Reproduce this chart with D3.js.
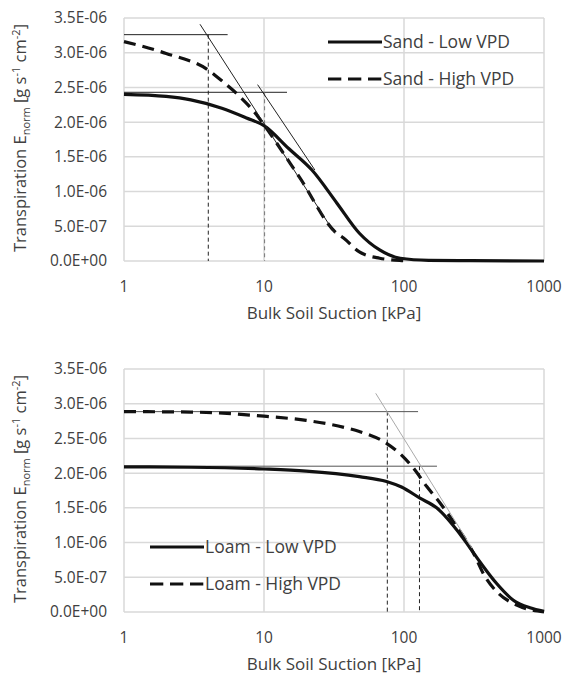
<!DOCTYPE html>
<html>
<head>
<meta charset="utf-8">
<script src="https://cdn.jsdelivr.net/npm/d3@7"></script>
<style>
  body { margin: 0; background: #fff; }
  text { font-family: "Open Sans", sans-serif; fill: #404040; }
</style>
</head>
<body>
<script>
// suction values in kPa, transpiration in 1e-6 g s-1 cm-2
const sandLowX  = [1, 2, 3, 5, 7.5, 10, 15, 22, 33, 48, 67, 94, 150, 300, 1000];
const sandLowY  = [2.40, 2.37, 2.32, 2.20, 2.06, 1.95, 1.62, 1.31, 0.84, 0.40, 0.16, 0.04, 0.01, 0.005, 0];
const sandHighX = [1, 2, 4, 5.1, 6.7, 8.9, 10, 18, 33, 37, 48, 67, 100, 110];
const sandHighY = [3.16, 2.99, 2.75, 2.58, 2.37, 2.10, 1.96, 1.20, 0.40, 0.33, 0.13, 0.04, 0.005, 0];

const loamLowX  = [1, 3, 10, 20, 48, 75, 96, 130, 171, 265, 349, 459, 604, 794, 1000];
const loamLowY  = [2.09, 2.085, 2.06, 2.03, 1.95, 1.88, 1.80, 1.64, 1.50, 1.06, 0.72, 0.41, 0.17, 0.06, 0.01];
const loamHighX = [1, 3, 10, 20, 39, 48, 75, 96, 117, 145, 181, 225, 313, 379, 472, 638, 1000];
const loamHighY = [2.886, 2.88, 2.82, 2.76, 2.65, 2.60, 2.43, 2.26, 2.07, 1.81, 1.57, 1.30, 0.85, 0.51, 0.27, 0.10, 0];

// construction lines: [x1, y1, x2, y2]
const sandGuides = {
  flats: [[1, 3.26, 5.5, 3.26], [1, 2.43, 14.6, 2.43]],
  slopes: [[3.49, 3.41, 32, 0.40], [9.0, 2.54, 23.1, 1.31]],
  drops: [[4.0, 3.26], [10.1, 2.43]]
};
const loamGuides = {
  flats: [[1, 2.886, 126, 2.886], [1, 2.10, 172, 2.10]],
  slopes: [[62.8, 3.15, 306, 0.92]],
  drops: [[76, 2.886], [129, 2.10]]
};

const yTicks = [0, 0.5, 1.0, 1.5, 2.0, 2.5, 3.0, 3.5];
const yTickLabels = ["0.0E+00", "5.0E-07", "1.0E-06", "1.5E-06", "2.0E-06", "2.5E-06", "3.0E-06", "3.5E-06"];
const xTicks = [1, 10, 100, 1000];

const width = 564, height = 675;
const svg = d3.select("body").append("svg")
  .attr("width", width).attr("height", height);

function panel(top, series, guides, legend) {
  const x = d3.scaleLog().domain([1, 1000]).range([124, 544]);
  const y = d3.scaleLinear().domain([0, 3.5]).range([top + 243, top]);
  const g = svg.append("g");

  // grid
  g.selectAll(".hg").data(yTicks).enter().append("line")
    .attr("x1", 124).attr("x2", 544)
    .attr("y1", d => y(d)).attr("y2", d => y(d))
    .attr("stroke", "#d9d9d9").attr("stroke-width", 1.5);
  g.selectAll(".vg").data(xTicks).enter().append("line")
    .attr("x1", d => x(d)).attr("x2", d => x(d))
    .attr("y1", top).attr("y2", top + 243)
    .attr("stroke", "#d9d9d9").attr("stroke-width", 1.5);

  g.selectAll(".yl").data(yTicks).enter().append("text")
    .attr("x", 107).attr("y", d => y(d)).attr("dy", "0.35em")
    .attr("text-anchor", "end").attr("font-size", 15.5)
    .text((d, i) => yTickLabels[i]);
  g.selectAll(".xl").data(xTicks).enter().append("text")
    .attr("x", d => x(d)).attr("y", top + 269).attr("dy", "0.35em")
    .attr("text-anchor", "middle").attr("font-size", 15.5)
    .text(d => d);

  g.append("text").attr("x", 334).attr("y", top + 295).attr("dy", "0.35em")
    .attr("text-anchor", "middle").attr("font-size", 17)
    .text("Bulk Soil Suction [kPa]");

  const yt = g.append("text")
    .attr("transform", `translate(20,${top + 120}) rotate(-90)`)
    .attr("text-anchor", "middle").attr("dy", "0.35em").attr("font-size", 16.5);
  yt.append("tspan").text("Transpiration E");
  yt.append("tspan").attr("font-size", 11).attr("dy", 4).text("norm");
  yt.append("tspan").attr("dy", -4).text(" [g s");
  yt.append("tspan").attr("font-size", 11).attr("dy", -6).text("-1");
  yt.append("tspan").attr("dy", 6).text(" cm");
  yt.append("tspan").attr("font-size", 11).attr("dy", -6).text("-2");
  yt.append("tspan").attr("dy", 6).text("]");

  // guides
  g.selectAll(".flat").data(guides.flats).enter().append("line")
    .attr("x1", d => x(d[0])).attr("y1", d => y(d[1]))
    .attr("x2", d => x(d[2])).attr("y2", d => y(d[3]))
    .attr("stroke", guides.flatColor).attr("stroke-width", 1);
  g.selectAll(".drop").data(guides.drops).enter().append("line")
    .attr("x1", d => x(d[0])).attr("y1", d => y(d[1]))
    .attr("x2", d => x(d[0])).attr("y2", y(0))
    .attr("stroke", (d, i) => guides.dropColors[i]).attr("stroke-width", 1)
    .attr("stroke-dasharray", "4,3");

  const line = d3.line().x(d => x(d[0])).y(d => y(d[1])).curve(d3.curveMonotoneX);
  series.forEach(s => {
    g.append("path")
      .datum(s.xs.map((v, i) => [v, s.ys[i]]))
      .attr("d", line)
      .attr("fill", "none").attr("stroke", "#111").attr("stroke-width", 3.2)
      .attr("stroke-dasharray", s.dash ? "12,7" : null);
  });

  g.selectAll(".slope").data(guides.slopes).enter().append("line")
    .attr("x1", d => x(d[0])).attr("y1", d => y(d[1]))
    .attr("x2", d => x(d[2])).attr("y2", d => y(d[3]))
    .attr("stroke", guides.slopeColor).attr("stroke-width", 1);

  // legend
  series.forEach((s, i) => {
    const ly = legend.y + i * 37;
    g.append("line").attr("x1", legend.x).attr("x2", legend.x + 54)
      .attr("y1", ly).attr("y2", ly)
      .attr("stroke", "#111").attr("stroke-width", 3.2)
      .attr("stroke-dasharray", s.dash ? "13.3,6.7" : null);
    g.append("text").attr("x", legend.x + 55).attr("y", ly).attr("dy", "0.35em")
      .attr("font-size", 17.5).text(s.name);
  });
}

panel(18,
  [{name: "Sand - Low VPD", xs: sandLowX, ys: sandLowY, dash: false},
   {name: "Sand - High VPD", xs: sandHighX, ys: sandHighY, dash: true}],
  Object.assign({flatColor: "#222", slopeColor: "#222", dropColors: ["#222", "#777"]}, sandGuides),
  {x: 328, y: 42});

panel(369,
  [{name: "Loam - Low VPD", xs: loamLowX, ys: loamLowY, dash: false},
   {name: "Loam - High VPD", xs: loamHighX, ys: loamHighY, dash: true}],
  Object.assign({flatColor: "#555", slopeColor: "#aaa", dropColors: ["#222", "#222"]}, loamGuides),
  {x: 150, y: 547});
</script>
</body>
</html>
